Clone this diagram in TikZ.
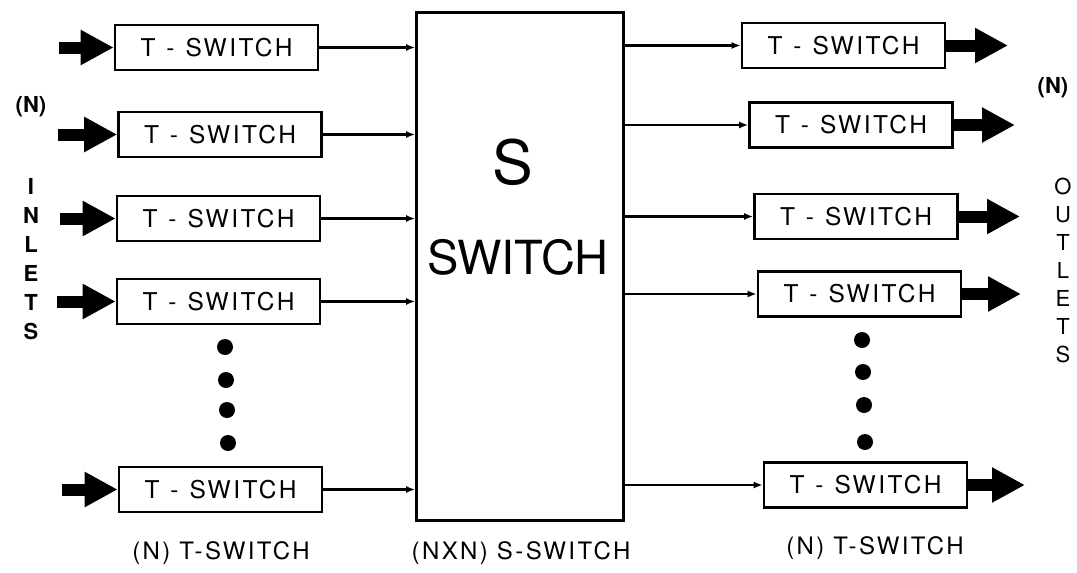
\documentclass[tikz,border=0pt]{standalone}
\usepackage{fontspec}
\setmainfont{TeX Gyre Heros}
\newfontfamily\lbl[LetterSpace=10]{TeX Gyre Heros}
\usetikzlibrary{arrows.meta}
\tikzset{
  tbox/.style={draw, line width=2.6pt, minimum width=203pt, minimum height=45pt, inner sep=0pt, font=\lbl\fontsize{24.5}{24.5}\selectfont},
  sbox/.style={draw, line width=2.8pt, minimum width=207pt, minimum height=508pt, inner sep=0pt},
  thinarrow/.style={line width=2.4pt, -{Latex[length=9pt,width=7pt]}},
  bigarrow/.style={line width=12pt, -{Triangle[length=33pt,width=33pt]}},
  bigdot/.style={circle, fill=black, minimum size=16pt, inner sep=0pt},
  captext/.style={font=\lbl\fontsize{24}{24}\selectfont, inner sep=0pt},
  verttext/.style={font=\bfseries\fontsize{22}{22}\selectfont, align=center, inner sep=0pt},
  ntext/.style={font=\bfseries\fontsize{22}{22}\selectfont, inner sep=0pt}
}
\newcommand{\ts}{T\hspace{0.45em}-\hspace{0.45em}SWITCH}
\begin{document}
\begin{tikzpicture}[x=1pt,y=-1pt]
\useasboundingbox (0,0) rectangle (1077,573);
% S switch
\node[sbox] (S) at (520,266.5) {};
\node[font=\fontsize{61}{61}\selectfont, inner sep=0pt] (Sl) at (513,162) {S};
\node[font=\fontsize{47}{47}\selectfont, inner sep=0pt] (Sw) at (518,257) {SWITCH};
% left T switches
\node[tbox] (L1) at (216.5,47.5) {\ts};
\node[tbox] (L2) at (220,134.5) {\ts};
\node[tbox] (L3) at (218.5,218.5) {\ts};
\node[tbox] (L4) at (218.5,301.5) {\ts};
\node[tbox] (L5) at (220.5,489.5) {\ts};
% right T switches
\node[tbox] (R1) at (843.5,45.5) {\ts};
\node[tbox] (R2) at (851,125) {\ts};
\node[tbox] (R3) at (856,216.5) {\ts};
\node[tbox] (R4) at (859.5,294) {\ts};
\node[tbox] (R5) at (865.5,485) {\ts};
% inlet coordinates
\coordinate (i1) at (59,47.5);
\coordinate (i2) at (58,134.5);
\coordinate (i3) at (60,218.5);
\coordinate (i4) at (57,301.5);
\coordinate (i5) at (62,489.5);
% outlet coordinates
\coordinate (o1) at (1008,45.5);
\coordinate (o2) at (1015,125);
\coordinate (o3) at (1020,216.5);
\coordinate (o4) at (1021,294);
\coordinate (o5) at (1025,485);
% arrows
\foreach \k in {1,...,5} {
  \draw[bigarrow] (i\k) -- (L\k.west);
  \draw[bigarrow] (R\k.east) -- (o\k);
  \draw[thinarrow] (L\k.east) -- (L\k.east -| S.west);
  \draw[thinarrow] (R\k.west -| S.east) -- (R\k.west);
}
% dots
\node[bigdot] (dl1) at (225,347) {};
\node[bigdot] (dl2) at (226,380) {};
\node[bigdot] (dl3) at (227,410) {};
\node[bigdot] (dl4) at (228,443) {};
\node[bigdot] (dr1) at (862,340) {};
\node[bigdot] (dr2) at (863,372) {};
\node[bigdot] (dr3) at (864,405) {};
\node[bigdot] (dr4) at (865,442) {};
% side labels
\node[ntext] (nl) at (31,107) {(N)};
\node[ntext] (nr) at (1053,88) {(N)};
\node[verttext, anchor=north] (inl) at (31,178) {I\\[7pt]N\\[7pt]L\\[7pt]E\\[7pt]T\\[7pt]S};
\node[verttext, anchor=north, font=\fontsize{22}{22}\selectfont] (outl) at (1063,178) {O\\[6pt]U\\[6pt]T\\[6pt]L\\[6pt]E\\[6pt]T\\[6pt]S};
% bottom captions
\node[captext] (c1) at (221,553) {(N) T-SWITCH};
\node[captext] (c2) at (521,553) {(NXN) S-SWITCH};
\node[captext] (c3) at (875,548) {(N) T-SWITCH};
\end{tikzpicture}
\end{document}
